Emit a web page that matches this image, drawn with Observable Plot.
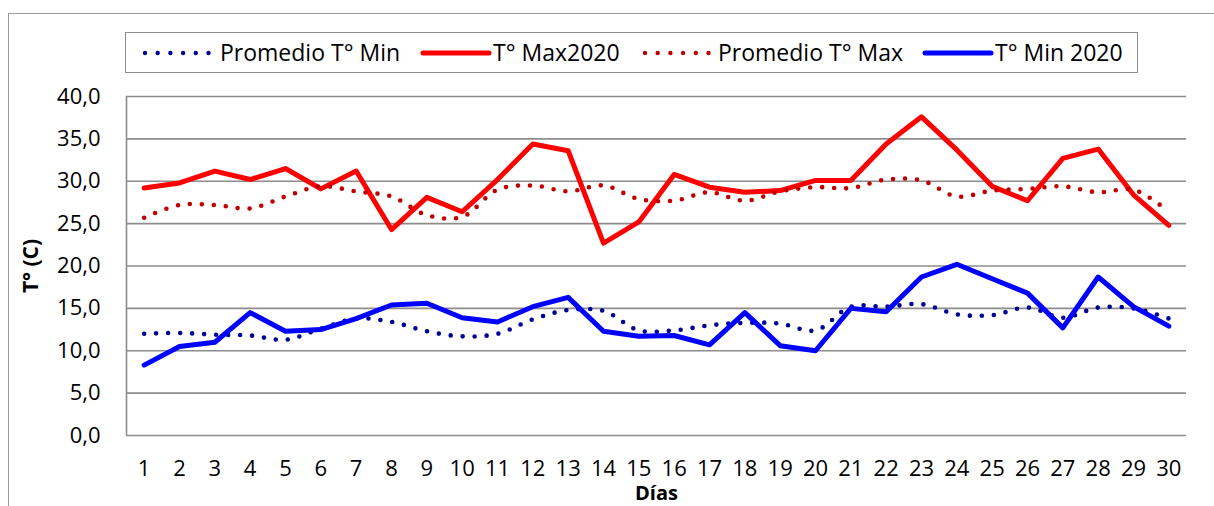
<!DOCTYPE html>
<html>
<head>
<meta charset="utf-8">
<script src="https://cdn.jsdelivr.net/npm/d3@7"></script>
<script src="https://cdn.jsdelivr.net/npm/@observablehq/plot@0.6"></script>
<style>
  html, body { margin: 0; padding: 0; background: #fff; }
  body { width: 1214px; height: 506px; position: relative; overflow: hidden; font-family: "Open Sans", sans-serif; }
  #outer { position: absolute; left: 8px; top: 13px; width: 1300px; height: 600px; border-left: 1.5px solid #9a9a9a; border-top: 1.5px solid #9a9a9a; box-sizing: border-box; }
  #legend { position: absolute; left: 125px; top: 32px; width: 1013px; height: 41px; border: 1.5px solid #8c8c8c; box-sizing: border-box; background: #fff; }
  .item { position: absolute; top: 0; height: 38px; display: flex; align-items: center; font-size: 23px; color: #000; white-space: nowrap; }
  .item svg { display: block; }
  #chart { position: absolute; left: 0; top: 80px; }
</style>
</head>
<body>
<div id="outer"></div>
<div id="legend"></div>
<div id="chart"></div>
<script>
// ---- data ----
const days = [1,2,3,4,5,6,7,8,9,10,11,12,13,14,15,16,17,18,19,20,21,22,23,24,25,26,27,28,29,30];
const promedioMin = [12.0,12.1,11.9,11.8,11.3,12.6,13.8,13.4,12.3,11.7,12.0,13.7,14.8,14.7,12.4,12.4,13.0,13.3,13.2,12.4,15.2,15.2,15.5,14.3,14.2,15.1,13.9,15.1,15.0,13.8];
const max2020 = [29.2,29.8,31.2,30.2,31.5,29.1,31.2,24.3,28.1,26.4,30.2,34.4,33.6,22.7,25.2,30.8,29.3,28.7,28.9,30.1,30.1,34.4,37.6,33.7,29.4,27.7,32.7,33.8,28.4,24.8];
const promedioMax = [25.7,27.2,27.2,26.8,28.2,29.4,28.8,28.2,26.0,25.8,29.0,29.5,28.8,29.5,27.9,27.7,28.7,27.7,28.8,29.3,29.2,30.2,30.1,28.2,28.9,29.1,29.4,28.7,29.0,26.4];
const min2020 = [8.3,10.5,11.0,14.5,12.3,12.5,13.8,15.4,15.6,13.9,13.4,15.2,16.3,12.3,11.7,11.8,10.7,14.5,10.6,10.0,15.0,14.6,18.7,20.2,18.5,16.8,12.7,18.7,15.2,12.9];
const seriesNames = ["Promedio T° Min", "T° Max2020", "Promedio T° Max", "T° Min 2020"];
const yTicks = [0,5,10,15,20,25,30,35,40];
const xDomain = [0.5, 30.5];
const yLabel = "T° (C)";
const xLabel = "Días";

const styles = {
  "Promedio T° Min": {stroke: "#000099", dotted: true},
  "T° Max2020": {stroke: "#ff0000", dotted: false},
  "Promedio T° Max": {stroke: "#c00000", dotted: true},
  "T° Min 2020": {stroke: "#0000ff", dotted: false}
};
const seriesValues = [promedioMin, max2020, promedioMax, min2020];

function rows(i) {
  return days.map((d, j) => ({day: d, value: seriesValues[i][j]}));
}

const lineMarks = seriesNames.map((name, i) => {
  const s = styles[name];
  return Plot.line(rows(i), {
    x: "day", y: "value",
    stroke: s.stroke,
    strokeWidth: s.dotted ? 4.6 : 5,
    strokeDasharray: s.dotted ? "0 12" : null,
    strokeLinecap: "round",
    strokeLinejoin: "round",
    curve: s.dotted ? "catmull-rom" : "linear"
  });
});

const fmt = d => d.toFixed(1).replace(".", ",");

const chart = Plot.plot({
  width: 1214,
  height: 426,
  marginTop: 16,
  marginBottom: 71,
  marginLeft: 126,
  marginRight: 28,
  style: {fontFamily: "Open Sans", fontSize: "22px", color: "#000", background: "transparent", overflow: "visible"},
  x: {domain: xDomain},
  y: {domain: [0, 40]},
  marks: [
    Plot.ruleY(yTicks, {stroke: "#8c8c8c", strokeWidth: 1.6}),
    Plot.ruleX([xDomain[0]], {stroke: "#8c8c8c", strokeWidth: 1.6}),
    Plot.axisY({ticks: yTicks, tickSize: 0, tickPadding: 26, tickFormat: fmt, label: null, fontSize: 22}),
    Plot.axisX({ticks: days, tickSize: 0, tickPadding: 25, tickFormat: d => String(d), label: null, fontSize: 22}),
    Plot.text([yLabel], {frameAnchor: "left", dx: -95, rotate: -90, text: d => d, fontWeight: "bold", fontSize: 21, textAnchor: "middle", lineAnchor: "middle"}),
    Plot.text([xLabel], {frameAnchor: "bottom", dy: 58, text: d => d, fontWeight: "bold", fontSize: 20, textAnchor: "middle", lineAnchor: "middle"}),
    ...lineMarks
  ]
});
document.getElementById("chart").appendChild(chart);

// ---- legend ----
const legend = document.getElementById("legend");
const legendPos = [
  {sw: 16, tx: 94},
  {sw: 294, tx: 367},
  {sw: 516, tx: 592},
  {sw: 796, tx: 869}
];
seriesNames.forEach((name, i) => {
  const s = styles[name];
  const sw = document.createElementNS("http://www.w3.org/2000/svg", "svg");
  sw.setAttribute("width", 72);
  sw.setAttribute("height", 38);
  const ln = document.createElementNS("http://www.w3.org/2000/svg", "line");
  ln.setAttribute("x1", 3);
  ln.setAttribute("x2", s.dotted ? 67 : 69);
  ln.setAttribute("y1", 20);
  ln.setAttribute("y2", 20);
  ln.setAttribute("stroke", s.stroke);
  ln.setAttribute("stroke-width", s.dotted ? 4.4 : 5);
  ln.setAttribute("stroke-linecap", "round");
  if (s.dotted) ln.setAttribute("stroke-dasharray", "0 12.7");
  sw.appendChild(ln);
  const swDiv = document.createElement("div");
  swDiv.className = "item";
  swDiv.style.left = legendPos[i].sw + "px";
  swDiv.appendChild(sw);
  legend.appendChild(swDiv);
  const t = document.createElement("div");
  t.className = "item";
  t.style.left = legendPos[i].tx + "px";
  t.textContent = name;
  legend.appendChild(t);
});
</script>
</body>
</html>
